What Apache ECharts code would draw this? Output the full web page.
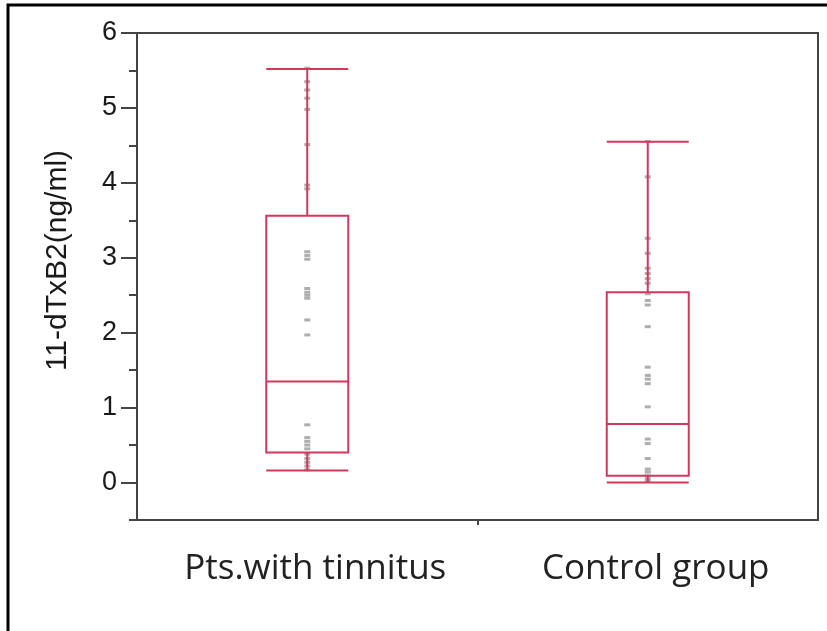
<!DOCTYPE html>
<html>
<head>
<meta charset="utf-8">
<script src="https://cdn.jsdelivr.net/npm/echarts@6/dist/echarts.min.js"></script>
<style>
  html, body { margin: 0; padding: 0; background: #fff; }
  #chart { width: 827px; height: 631px; }
</style>
</head>
<body>
<div id="chart"></div>
<script>
// categories
const groups = ['Pts.with tinnitus', 'Control group'];
// [low whisker, Q1, median, Q3, high whisker]
const boxTinnitus = [0.16, 0.40, 1.35, 3.56, 5.52];
const boxControl = [0.0, 0.09, 0.78, 2.54, 4.55];
// raw points
const ptsTinnitus = [5.53, 5.35, 5.24, 5.13, 4.98, 4.51, 3.97, 3.92, 3.08, 3.03, 2.98,
    2.59, 2.54, 2.50, 2.46, 2.17, 1.97, 0.77, 0.60, 0.55, 0.50, 0.45, 0.38, 0.32, 0.27, 0.22, 0.17];
const ptsControl = [4.55, 4.08, 3.26, 3.06, 2.86, 2.79, 2.72, 2.66, 2.52, 2.43, 2.37, 2.08,
    1.54, 1.43, 1.38, 1.32, 1.01, 0.58, 0.52, 0.32, 0.18, 0.14, 0.09, 0.05, 0.02];
// ticks
const majorTicks = [0, 1, 2, 3, 4, 5, 6];
const minorTicks = [-0.5, 0.5, 1.5, 2.5, 3.5, 4.5, 5.5];
const xSepTicks = [1]; // tick between the two groups

const boxColor = '#d3385c';
const axisColor = '#444';

const chart = echarts.init(document.getElementById('chart'));

const scatterData = [];
ptsTinnitus.forEach(v => scatterData.push([groups[0], v]));
ptsControl.forEach(v => scatterData.push([groups[1], v]));

chart.setOption({
    animation: false,
    graphic: [{
        type: 'rect',
        shape: { x: 8, y: 5, width: 840, height: 650 },
        style: { fill: 'none', stroke: '#000', lineWidth: 3 }
    }],
    grid: {
        left: 137,
        top: 33,
        right: 9,
        bottom: 111,
        show: true,
        borderColor: axisColor,
        borderWidth: 2
    },
    xAxis: [{
        type: 'category',
        data: groups,
        boundaryGap: true,
        axisLine: { onZero: false, lineStyle: { color: axisColor, width: 2 } },
        axisTick: { show: false },
        axisLabel: {
            interval: 0,
            margin: 32,
            padding: [0, 0, 0, 16],
            fontFamily: 'Open Sans',
            fontSize: 35,
            color: '#222'
        },
        splitLine: { show: false }
    }, {
        // only used for the small tick between the groups
        type: 'value',
        min: 0,
        max: 2,
        interval: 1,
        position: 'bottom',
        axisLine: { show: false, onZero: false },
        axisTick: {
            show: true,
            length: 5,
            customValues: xSepTicks,
            lineStyle: { color: axisColor, width: 2 }
        },
        axisLabel: { show: false },
        splitLine: { show: false }
    }],
    yAxis: [{
        type: 'value',
        min: -0.5,
        max: 6,
        interval: 0.5,
        name: '11-dTxB2(ng/ml)',
        nameLocation: 'middle',
        nameGap: 64,
        nameTextStyle: {
            fontFamily: 'Liberation Sans',
            fontSize: 30,
            color: '#1a1a1a',
            padding: [0, 0, 0, 32]
        },
        axisLine: { show: true, lineStyle: { color: axisColor, width: 2 } },
        axisTick: {
            show: true,
            length: 16,
            customValues: majorTicks,
            lineStyle: { color: axisColor, width: 2 }
        },
        axisLabel: {
            margin: 20,
            customValues: majorTicks,
            fontFamily: 'Liberation Sans',
            fontSize: 27,
            color: '#1a1a1a'
        },
        splitLine: { show: false }
    }, {
        type: 'value',
        min: -0.5,
        max: 6,
        interval: 0.5,
        position: 'left',
        axisLine: { show: false },
        axisTick: {
            show: true,
            length: 8,
            customValues: minorTicks,
            lineStyle: { color: axisColor, width: 2 }
        },
        axisLabel: { show: false },
        splitLine: { show: false }
    }],
    series: [{
        type: 'boxplot',
        data: [boxTinnitus, boxControl],
        boxWidth: [82, 82],
        itemStyle: {
            color: 'transparent',
            borderColor: boxColor,
            borderWidth: 2
        },
        z: 3
    }, {
        type: 'scatter',
        data: scatterData,
        symbol: 'rect',
        symbolSize: [6, 3],
        itemStyle: { color: '#9a9a9a' },
        z: 2
    }]
});
</script>
</body>
</html>
